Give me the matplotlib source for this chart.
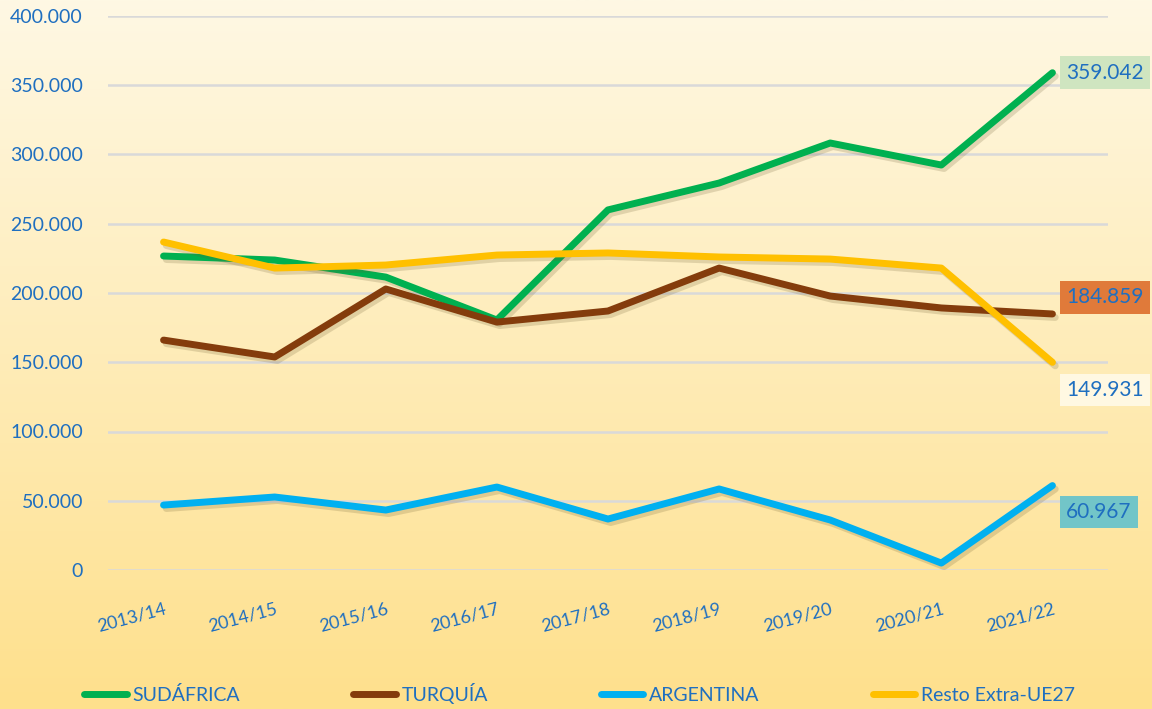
import matplotlib
matplotlib.use("Agg")
import matplotlib.pyplot as plt
import matplotlib.patheffects as pe
import numpy as np

plt.rcParams['font.family'] = ['Lato', 'DejaVu Sans']

campanas = ["2013/14", "2014/15", "2015/16", "2016/17", "2017/18",
            "2018/19", "2019/20", "2020/21", "2021/22"]
sudafrica = [226700, 223800, 211500, 180500, 260000, 279400, 308300, 292400, 359042]
turquia = [166000, 153800, 202900, 179000, 187000, 218000, 197800, 189200, 184859]
argentina = [46900, 52700, 43300, 59900, 36800, 58500, 36100, 5000, 60967]
resto = [236800, 218000, 220200, 227400, 228900, 226000, 224500, 218000, 149931]

azul = "#1F6FC0"

fig = plt.figure(figsize=(11.52, 7.09), dpi=100)

# fondo degradado
bg = fig.add_axes([0, 0, 1, 1], zorder=-10)
grad = np.linspace(0, 1, 256).reshape(-1, 1)
top = np.array([254, 248, 228]) / 255
bot = np.array([255, 224, 140]) / 255
img = top + (bot - top) * grad[:, :, None]
bg.imshow(img, aspect="auto", extent=[0, 1, 0, 1])
bg.axis("off")

ax = fig.add_axes([108 / 1152, 1 - 570 / 709, 1000 / 1152, 554 / 709])
ax.patch.set_alpha(0)
x = np.arange(len(campanas))

series = [(sudafrica, "#00B050", "SUDÁFRICA"),
          (turquia, "#843C0C", "TURQUÍA"),
          (argentina, "#00B0F0", "ARGENTINA"),
          (resto, "#FFC000", "Resto Extra-UE27")]

sombra = [pe.SimpleLineShadow(offset=(2, -2.5), shadow_color="#6a5a30", alpha=0.2),
          pe.Normal()]
for vals, col, lab in series:
    ax.plot(x, vals, color=col, lw=5, label=lab, solid_capstyle="round",
            path_effects=sombra)

ax.set_xlim(-0.5, 8.5)
ax.set_ylim(0, 400000)
ax.set_yticks(np.arange(0, 400001, 50000))
ax.set_yticklabels(["0"] + [f"{v // 1000}.000" for v in range(50000, 400001, 50000)])
ax.set_xticks(x)
ax.set_xticklabels(campanas, rotation=15, ha="right", rotation_mode="anchor")
ax.tick_params(axis="y", colors=azul, labelsize=14, length=0, pad=18)
ax.tick_params(axis="x", colors=azul, labelsize=13, length=0, pad=22)
ax.grid(axis="y", color="#D9D9D9", lw=1.8)
ax.set_axisbelow(True)
for s in ax.spines.values():
    s.set_visible(False)

# etiquetas de datos
etiquetas = [(sudafrica[-1], "#CFE5C0", 0),
             (turquia[-1], "#E07A3A", 12),
             (resto[-1], "#FFF8E2", -20),
             (argentina[-1], "#72C5C8", -19)]
for val, fc, dy in etiquetas:
    txt = f"{val / 1000:.3f}"
    ax.annotate(txt, (8, val), xytext=(10, dy), textcoords="offset points",
                ha="left", va="center", color=azul, fontsize=15,
                bbox=dict(boxstyle="square,pad=0.3", fc=fc, ec="none"),
                annotation_clip=False)

fig.legend(loc="center", bbox_to_anchor=(0.503, 0.022), ncol=4, frameon=False,
           fontsize=14, handlelength=2.2, handletextpad=0.3, columnspacing=5.8,
           labelcolor=azul)
for h in fig.legends[0].get_lines():
    h.set_linewidth(5)
    h.set_path_effects([pe.Normal()])

fig.savefig("out.png", dpi=100)
